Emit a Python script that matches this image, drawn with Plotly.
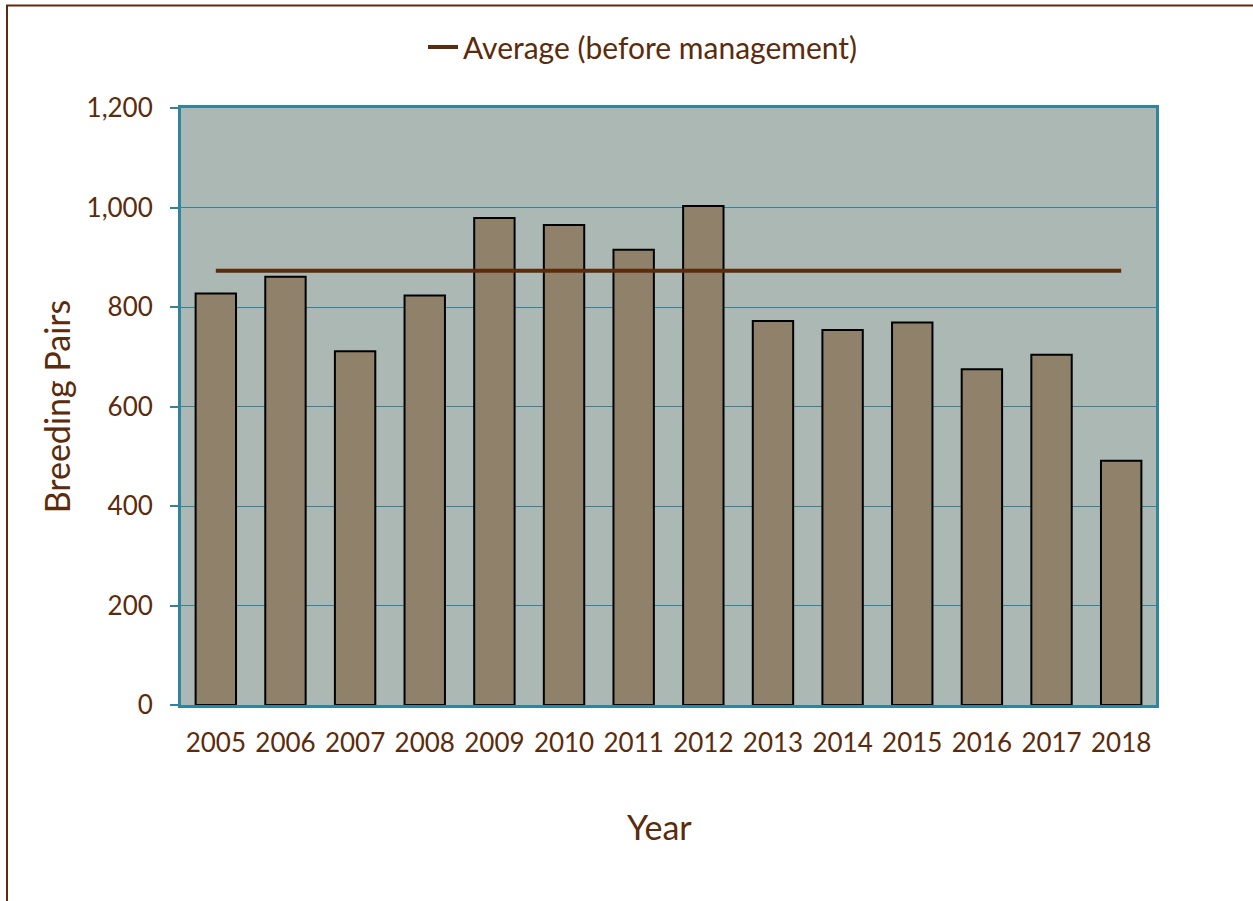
import plotly.graph_objects as go

years = ["2005", "2006", "2007", "2008", "2009", "2010", "2011",
         "2012", "2013", "2014", "2015", "2016", "2017", "2018"]
breeding_pairs = [827, 861, 711, 823, 979, 965, 915,
                  1003, 772, 754, 769, 675, 704, 491]
average_before = 873
average_values = [average_before] * len(years)
y_ticks = [0, 200, 400, 600, 800, 1000, 1200]

BROWN = "#5C2B0B"
TEAL = "#31849B"
BAR = "#8F816A"
BG = "#ABB8B3"
FONT = "Lato"

W, H = 1253, 901
L, R, T, B = 181, 97, 108, 196
pw, ph = W - L - R, H - T - B


def px_x(p):
    return (p - L) / pw


def px_y(p):
    return (H - B - p) / ph


fig = go.Figure()
fig.add_trace(go.Bar(
    x=years, y=breeding_pairs, showlegend=False,
    marker=dict(color=BAR, line=dict(color="#000000", width=2)),
    hoverinfo="x+y",
))
fig.add_trace(go.Scatter(
    x=years, y=average_values, mode="lines",
    name="Average (before management)",
    line=dict(color=BROWN, width=4),
))

fig.update_layout(
    width=W, height=H,
    margin=dict(l=L, r=R, t=T, b=B, autoexpand=False),
    paper_bgcolor="#FFFFFF",
    plot_bgcolor=BG,
    bargap=0.42,
    font=dict(family=FONT, color=BROWN, size=26),
    legend=dict(
        orientation="h", x=px_x(643), xanchor="center",
        y=px_y(47), yanchor="middle",
        font=dict(family=FONT, size=30, color=BROWN),
        bgcolor="rgba(0,0,0,0)",
    ),
    xaxis=dict(
        type="category",
        showline=True, linecolor=TEAL, linewidth=2.5, mirror=True,
        showgrid=False, ticks="",
        tickfont=dict(family=FONT, size=26, color=BROWN),
        ticklabelstandoff=13,
        automargin=False,
    ),
    yaxis=dict(
        range=[0, 1200], tickvals=y_ticks, tickformat=",",
        showline=True, linecolor=TEAL, linewidth=3, mirror=True,
        showgrid=True, gridcolor=TEAL, gridwidth=1,
        ticks="outside", ticklen=8, tickcolor=TEAL, tickwidth=2,
        tickfont=dict(family=FONT, size=26, color=BROWN),
        ticklabelstandoff=12,
        zeroline=False,
        title=dict(text="Breeding Pairs",
                   font=dict(family=FONT, size=34, color=BROWN),
                   standoff=6),
        automargin=False,
    ),
    annotations=[dict(
        text="Year", xref="paper", yref="paper",
        x=px_x(659), y=px_y(826), xanchor="center", yanchor="middle",
        showarrow=False, font=dict(family=FONT, size=34, color=BROWN),
    )],
    shapes=[dict(
        type="path", xref="paper", yref="paper",
        path=(f"M {px_x(7)},{px_y(910)} L {px_x(7)},{px_y(5.5)} "
              f"L {px_x(1265)},{px_y(5.5)}"),
        line=dict(color=BROWN, width=2),
        layer="above",
    )],
)

fig.write_html(
    "out.html",
    config={"displayModeBar": False},
    post_script="document.body.style.margin='0px';"
                "document.body.style.overflow='hidden';",
)
